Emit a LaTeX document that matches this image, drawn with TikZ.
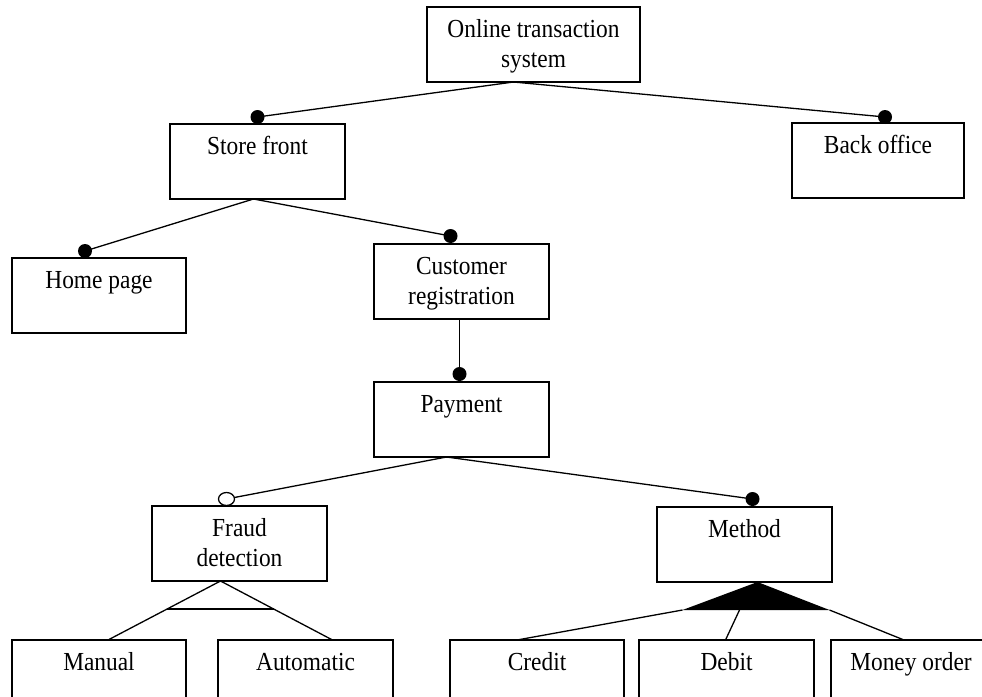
\documentclass[tikz,border=0pt]{standalone}
\usepackage{fontspec}
\setmainfont{Liberation Serif}[FakeStretch=0.9]
\usetikzlibrary{calc}
% feature box text: first baseline 30pt below the top edge, box 75pt tall
\newcommand{\feattext}[2]{\parbox[t][75pt][t]{#1pt}{\centering\rule{0pt}{30pt}#2}}
\begin{document}
\begin{tikzpicture}[x=1pt,y=-1pt,
  feat/.style={draw, line width=1.3pt, inner sep=0pt, outer sep=0pt, anchor=north west,
               font=\fontsize{26pt}{30pt}\selectfont},
  link/.style={line width=1.3pt},
  mand/.style={fill=black},
  opt/.style={draw=black, fill=white, line width=1.3pt}]

\useasboundingbox (0,0) rectangle (982,696);
\clip (0,0) rectangle (982,696);
\fill[white] (0,0) rectangle (982,696);

% features
\node[feat] (online) at (427,7)   {\feattext{213}{Online transaction\\system}};
\node[feat] (store)  at (170,124) {\feattext{175}{Store front}};
\node[feat] (back)   at (792,123) {\feattext{172}{Back office}};
\node[feat] (home)   at (12,258)  {\feattext{174}{Home page}};
\node[feat] (cust)   at (374,244) {\feattext{175}{Customer\\registration}};
\node[feat] (pay)    at (374,382) {\feattext{175}{Payment}};
\node[feat] (fraud)  at (152,506) {\feattext{175}{Fraud\\detection}};
\node[feat] (method) at (657,507) {\feattext{175}{Method}};
\node[feat] (manual) at (12,640)  {\feattext{174}{Manual}};
\node[feat] (auto)   at (218,640) {\feattext{175}{Automatic}};
\node[feat] (credit) at (450,640) {\feattext{174}{Credit}};
\node[feat] (debit)  at (639,640) {\feattext{175}{Debit}};
\node[feat] (money)  at (831,640) {\feattext{160}{Money order}};

% connector ends
\coordinate (online-o) at ($(online.south)+(-20,0)$);
\coordinate (store-i)  at ($(store.north)+(0,-7)$);
\coordinate (back-i)   at ($(back.north)+(7,-6)$);
\coordinate (store-o)  at ($(store.south)+(-4,0)$);
\coordinate (home-i)   at ($(home.north)+(-14,-7)$);
\coordinate (cust-i)   at ($(cust.north)+(-11,-8)$);
\coordinate (cust-o)   at ($(cust.south)+(-2,0)$);
\coordinate (pay-i)    at ($(pay.north)+(-2,-8)$);
\coordinate (pay-o)    at ($(pay.south)+(-15,0)$);
\coordinate (fraud-i)  at ($(fraud.north)+(-13,-7)$);
\coordinate (method-i) at ($(method.north)+(8,-8)$);
\coordinate (fraud-o)  at ($(fraud.south)+(-19,0)$);
\coordinate (manual-i) at ($(manual.north)+(9,0)$);
\coordinate (auto-i)   at ($(auto.north)+(27,0)$);
\coordinate (method-o) at ($(method.south)+(13,0)$);
\coordinate (credit-i) at ($(credit.north)+(-20,0)$);
\coordinate (debit-i)  at ($(debit.north)+(-1,0)$);
\coordinate (money-i)  at ($(money.north)+(-7,0)$);
\coordinate (alt-l) at ($(fraud-o)!0.474!(manual-i)$);
\coordinate (alt-r) at ($(fraud-o)!0.474!(auto-i)$);
\coordinate (or-l) at ($(method-o)+(-75,28)$);
\coordinate (or-m) at ($(method-o)+(-18,28)$);
\coordinate (or-r) at ($(method-o)+(72,28)$);

% mandatory / optional links
\draw[link] (online-o) -- (store-i);
\draw[link] (online-o) -- (back-i);
\draw[link] (store-o) -- (home-i);
\draw[link] (store-o) -- (cust-i);
\draw[link] (cust-o) -- (pay-i);
\draw[link] (pay-o) -- (fraud-i);
\draw[link] (pay-o) -- (method-i);

% alternative group
\draw[link] (fraud-o) -- (manual-i);
\draw[link] (fraud-o) -- (auto-i);
\draw[link] (alt-l) -- (alt-r);

% or group
\fill (method-o) -- (or-l) -- (or-r) -- cycle;
\draw[link] (or-l) -- (credit-i);
\draw[link] (or-m) -- (debit-i);
\draw[link] (or-r) -- (money-i);

% link markers
\foreach \p in {store-i,back-i,home-i,cust-i,pay-i,method-i}
  \fill[mand] (\p) circle (7pt);
\draw[opt] (fraud-i) ellipse [x radius=8pt, y radius=6.5pt];
\end{tikzpicture}
\end{document}
